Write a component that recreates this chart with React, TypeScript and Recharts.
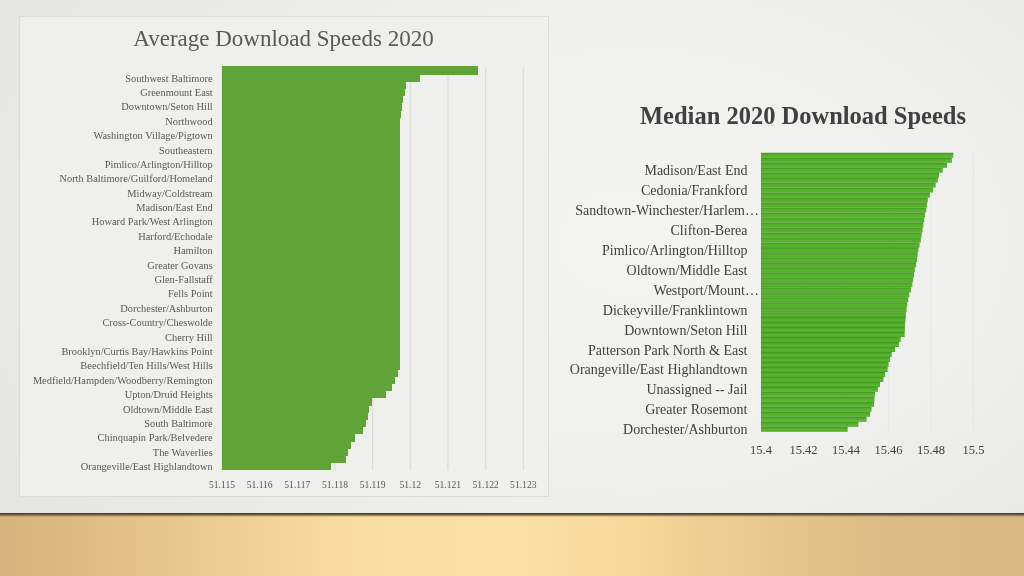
import React from 'react';
import { BarChart, Bar, XAxis, YAxis, CartesianGrid } from 'recharts';

// ---------- Left chart: Average Download Speeds 2020 ----------
const avgTitle = 'Average Download Speeds 2020';
// visible labels, top to bottom (every other category)
const avgLabels = [
  'Southwest Baltimore',
  'Greenmount East',
  'Downtown/Seton Hill',
  'Northwood',
  'Washington Village/Pigtown',
  'Southeastern',
  'Pimlico/Arlington/Hilltop',
  'North Baltimore/Guilford/Homeland',
  'Midway/Coldstream',
  'Madison/East End',
  'Howard Park/West Arlington',
  'Harford/Echodale',
  'Hamilton',
  'Greater Govans',
  'Glen-Fallstaff',
  'Fells Point',
  'Dorchester/Ashburton',
  'Cross-Country/Cheswolde',
  'Cherry Hill',
  'Brooklyn/Curtis Bay/Hawkins Point',
  'Beechfield/Ten Hills/West Hills',
  'Medfield/Hampden/Woodberry/Remington',
  'Upton/Druid Heights',
  'Oldtown/Middle East',
  'South Baltimore',
  'Chinquapin Park/Belvedere',
  'The Waverlies',
  'Orangeville/East Highlandtown',
];
// 56 bars, top to bottom
const avgValues = [
  51.12177, 51.12023, 51.11986, 51.11983, 51.11979, 51.11976, 51.11974, 51.11972,
  51.11971, 51.11971, 51.11971, 51.11971, 51.11971, 51.11971, 51.11971, 51.11971,
  51.11971, 51.11971, 51.11971, 51.11971, 51.11971, 51.11971, 51.11971, 51.11971,
  51.11971, 51.11971, 51.11971, 51.11971, 51.11971, 51.11971, 51.11971, 51.11971,
  51.11971, 51.11971, 51.11971, 51.11971, 51.11971, 51.11971, 51.11971, 51.11971,
  51.1197, 51.1197, 51.11966, 51.11959, 51.11949, 51.11935, 51.11897, 51.11888,
  51.11885, 51.11881, 51.11874, 51.11851, 51.1184, 51.11834, 51.11827, 51.11789,
];
const avgTicks = [51.115, 51.116, 51.117, 51.118, 51.119, 51.12, 51.121, 51.122, 51.123];

// ---------- Right chart: Median 2020 Download Speeds ----------
const medTitle = 'Median 2020 Download Speeds';
// visible labels, top to bottom (every fourth category)
const medLabels = [
  'Madison/East End',
  'Cedonia/Frankford',
  'Sandtown-Winchester/Harlem…',
  'Clifton-Berea',
  'Pimlico/Arlington/Hilltop',
  'Oldtown/Middle East',
  'Westport/Mount…',
  'Dickeyville/Franklintown',
  'Downtown/Seton Hill',
  'Patterson Park North & East',
  'Orangeville/East Highlandtown',
  'Unassigned -- Jail',
  'Greater Rosemont',
  'Dorchester/Ashburton',
];
// 56 bars, top to bottom
const medValues = [
  15.4905, 15.4898, 15.4875, 15.4855, 15.4838, 15.4832, 15.4822, 15.481,
  15.4795, 15.4785, 15.4781, 15.4778, 15.4772, 15.4768, 15.4764, 15.476,
  15.4756, 15.4752, 15.4746, 15.4741, 15.4737, 15.4734, 15.473, 15.4724,
  15.472, 15.4716, 15.4712, 15.4706, 15.4698, 15.4693, 15.4688, 15.4685,
  15.4682, 15.468, 15.4678, 15.4677, 15.4676, 15.4657, 15.4649, 15.4631,
  15.4615, 15.4607, 15.46, 15.4596, 15.4584, 15.4576, 15.456, 15.455,
  15.4536, 15.4534, 15.4532, 15.452, 15.4513, 15.4497, 15.4458, 15.4408,
];
const medTicks = [15.4, 15.42, 15.44, 15.46, 15.48, 15.5];

const avgData = avgValues.map((v, i) => ({
  id: 'a' + i,
  label: i % 2 === 1 ? avgLabels[(i - 1) / 2] : '',
  value: v,
}));
const medData = medValues.map((v, i) => ({
  id: 'm' + i,
  label: i % 4 === 3 ? medLabels[(i - 3) / 4] : '',
  value: v,
}));

const FONT = '"Liberation Serif", "Times New Roman", serif';

const AvgYTick = (props: any) => {
  const { x, y, payload } = props;
  const idx = parseInt(String(payload.value).slice(1), 10);
  const label = avgData[idx] ? avgData[idx].label : '';
  if (!label) return <g />;
  return (
    <text x={x} y={y} dy="0.36em" textAnchor="end" fontFamily={FONT} fontSize={10.4} fill="#595959">
      {label}
    </text>
  );
};

const MedYTick = (props: any) => {
  const { x, y, payload } = props;
  const idx = parseInt(String(payload.value).slice(1), 10);
  const label = medData[idx] ? medData[idx].label : '';
  if (!label) return <g />;
  const shift = label.endsWith('…') ? 11.5 : 0;
  return (
    <text x={x + shift} y={y} dy="0.36em" textAnchor="end" fontFamily={FONT} fontSize={14} fill="#404040">
      {label}
    </text>
  );
};

export default function App() {
  return (
    <div
      style={{
        position: 'fixed',
        left: 0,
        top: 0,
        width: 1024,
        height: 576,
        overflow: 'hidden',
        background: 'radial-gradient(ellipse 75% 90% at 62% 42%, #f4f4f2 0%, #efefed 45%, #e4e4e1 100%)',
      }}
    >
      {/* floor */}
      <div
        style={{
          position: 'absolute',
          left: 0,
          top: 513,
          width: 1024,
          height: 63,
          background:
            'linear-gradient(to bottom, #3a2f20 0px, #6f5a3c 1.5px, rgba(230,200,140,0) 4px), linear-gradient(to right, #d6b27e 0%, #e2c087 12%, #f0d095 24%, #f9dea2 36%, #fbe1a6 50%, #f6d899 62%, #eacb90 72%, #ddbc87 85%, #dab985 100%)',
        }}
      />
      {/* left panel */}
      <div
        style={{
          position: 'absolute',
          left: 19,
          top: 16,
          width: 528,
          height: 479,
          background: '#efefec',
          border: '1px solid #dcdcd9',
        }}
      />
      <svg width={1024} height={576} style={{ position: 'absolute', left: 0, top: 0 }}>
        <text x={283.5} y={46} textAnchor="middle" fontFamily={FONT} fontSize={23} fill="#595959">
          {avgTitle}
        </text>
        <text x={803} y={123.5} textAnchor="middle" fontFamily={FONT} fontSize={24.5} fontWeight="bold" fill="#404040">
          {medTitle}
        </text>
      </svg>

      <div style={{ position: 'absolute', left: 19, top: 16 }}>
        <BarChart
          width={529}
          height={480}
          data={avgData}
          layout="vertical"
          margin={{ top: 51, right: 24.7, bottom: 6, left: 0 }}
          barCategoryGap={0}
        >
          <CartesianGrid horizontal={false} vertical stroke="#d9d9d6" />
          <XAxis
            type="number"
            domain={[51.115, 51.123]}
            ticks={avgTicks}
            allowDataOverflow
            axisLine={false}
            tickLine={false}
            height={20}
            tickMargin={5}
            tick={{ fontFamily: FONT, fontSize: 9.6, fill: '#595959' }}
            interval={0}
          />
          <YAxis
            type="category"
            dataKey="id"
            width={203}
            axisLine={false}
            tickLine={false}
            tickMargin={3.3}
            interval={0}
            tick={<AvgYTick />}
          />
          <Bar
            dataKey="value"
            fill="#60a336"
            stroke="#60a336"
            strokeWidth={1.2}
            shapeRendering="crispEdges"
            isAnimationActive={false}
          />
        </BarChart>
      </div>

      <div style={{ position: 'absolute', left: 560, top: 100 }}>
        <BarChart
          width={440}
          height={370}
          data={medData}
          layout="vertical"
          margin={{ top: 52.7, right: 26.5, bottom: 8.3, left: 0 }}
          barCategoryGap={0}
        >
          <defs>
            <linearGradient id="medFill" x1="0" y1="0" x2="0" y2="1">
              <stop offset="0%" stopColor="#3f961c" />
              <stop offset="35%" stopColor="#52ad2a" />
              <stop offset="75%" stopColor="#5bb533" />
              <stop offset="100%" stopColor="#4aa324" />
            </linearGradient>
          </defs>
          <CartesianGrid horizontal={false} vertical stroke="#e7e7e4" />
          <XAxis
            type="number"
            domain={[15.4, 15.5]}
            ticks={medTicks}
            allowDataOverflow
            axisLine={false}
            tickLine={false}
            height={30}
            tickMargin={7.4}
            tick={{ fontFamily: FONT, fontSize: 12.5, fill: '#404040' }}
            interval={0}
          />
          <YAxis
            type="category"
            dataKey="id"
            width={201}
            axisLine={false}
            tickLine={false}
            tickMargin={7.5}
            interval={0}
            tick={<MedYTick />}
          />
          <Bar dataKey="value" fill="url(#medFill)" isAnimationActive={false} />
        </BarChart>
      </div>
    </div>
  );
}
